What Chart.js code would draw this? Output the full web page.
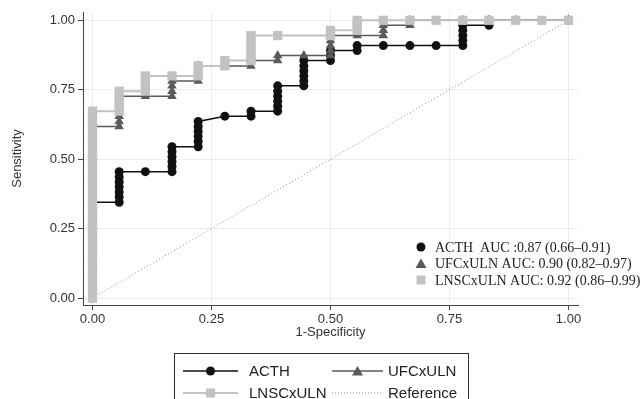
<!DOCTYPE html>
<html>
<head>
<meta charset="utf-8">
<script src="https://cdn.jsdelivr.net/npm/chart.js@4.4.1/dist/chart.umd.min.js"></script>
<style>
  html, body { margin: 0; padding: 0; background: #fff; }
  #wrap { width: 644px; height: 399px; }
</style>
</head>
<body>
<div id="wrap"><canvas id="roc" width="644" height="399"></canvas></div>
<script>
// 축 눈금
const fprTicks = [0, 0.25, 0.5, 0.75, 1];
const sensTicks = [0, 0.25, 0.5, 0.75, 1];

// ACTH (1-specificity, sensitivity)
const acthFpr = [
  0, 0, 0, 0, 0, 0, 0, 0, 0, 0, 0, 0, 0, 0, 0, 0, 0, 0, 0, 0,
  0.056, 0.056, 0.056, 0.056, 0.056, 0.056, 0.056,
  0.111,
  0.167, 0.167, 0.167, 0.167, 0.167, 0.167,
  0.222, 0.222, 0.222, 0.222, 0.222, 0.222,
  0.278,
  0.333, 0.333,
  0.389, 0.389, 0.389, 0.389, 0.389, 0.389,
  0.444, 0.444, 0.444, 0.444, 0.444, 0.444,
  0.5, 0.5, 0.5,
  0.556, 0.556,
  0.611, 0.667, 0.722,
  0.778, 0.778, 0.778, 0.778, 0.778,
  0.833, 0.833,
  1
];
const acthSens = [
  0, 0.018, 0.036, 0.055, 0.073, 0.091, 0.109, 0.127, 0.145, 0.164, 0.182, 0.2, 0.218, 0.236, 0.255, 0.273, 0.291, 0.309, 0.327, 0.345,
  0.345, 0.364, 0.382, 0.4, 0.418, 0.436, 0.455,
  0.455,
  0.455, 0.473, 0.491, 0.509, 0.527, 0.545,
  0.545, 0.564, 0.582, 0.6, 0.618, 0.636,
  0.655,
  0.655, 0.673,
  0.673, 0.691, 0.709, 0.727, 0.745, 0.764,
  0.764, 0.782, 0.8, 0.818, 0.836, 0.855,
  0.855, 0.873, 0.891,
  0.891, 0.909,
  0.909, 0.909, 0.909,
  0.909, 0.927, 0.945, 0.964, 0.982,
  0.982, 1,
  1
];

// UFCxULN
const ufcFpr = [
  0, 0, 0, 0, 0, 0, 0, 0, 0, 0, 0, 0, 0, 0, 0, 0, 0, 0, 0, 0, 0, 0, 0, 0, 0, 0, 0, 0, 0, 0, 0, 0, 0, 0, 0,
  0.056, 0.056, 0.056, 0.056, 0.056, 0.056, 0.056,
  0.111,
  0.167, 0.167, 0.167, 0.167,
  0.222, 0.222, 0.222, 0.222,
  0.278,
  0.333, 0.333,
  0.389, 0.389,
  0.444,
  0.5, 0.5, 0.5, 0.5, 0.5,
  0.556,
  0.611, 0.611, 0.611,
  0.667, 0.667,
  0.778, 0.833, 0.889, 1
];
const ufcSens = [
  0, 0.018, 0.036, 0.055, 0.073, 0.091, 0.109, 0.127, 0.145, 0.164, 0.182, 0.2, 0.218, 0.236, 0.255, 0.273, 0.291, 0.309, 0.327, 0.345, 0.364, 0.382, 0.4, 0.418, 0.436, 0.455, 0.473, 0.491, 0.509, 0.527, 0.545, 0.564, 0.582, 0.6, 0.618,
  0.618, 0.636, 0.655, 0.673, 0.691, 0.709, 0.727,
  0.727,
  0.727, 0.745, 0.764, 0.782,
  0.782, 0.8, 0.818, 0.836,
  0.836,
  0.836, 0.855,
  0.855, 0.873,
  0.873,
  0.873, 0.891, 0.909, 0.927, 0.945,
  0.945,
  0.945, 0.964, 0.982,
  0.982, 1,
  1, 1, 1, 1
];

// LNSCxULN
const lnscFpr = [
  0, 0, 0, 0, 0, 0, 0, 0, 0, 0, 0, 0, 0, 0, 0, 0, 0, 0, 0, 0, 0, 0, 0, 0, 0, 0, 0, 0, 0, 0, 0, 0, 0, 0, 0, 0, 0, 0,
  0.056, 0.056, 0.056, 0.056, 0.056,
  0.111, 0.111, 0.111, 0.111,
  0.167,
  0.222, 0.222, 0.222,
  0.278, 0.278,
  0.333, 0.333, 0.333, 0.333, 0.333, 0.333,
  0.389,
  0.5, 0.5,
  0.556, 0.556, 0.556,
  0.611, 0.667, 0.722, 0.778, 0.833, 0.889, 0.944, 1
];
const lnscSens = [
  0, 0.018, 0.036, 0.055, 0.073, 0.091, 0.109, 0.127, 0.145, 0.164, 0.182, 0.2, 0.218, 0.236, 0.255, 0.273, 0.291, 0.309, 0.327, 0.345, 0.364, 0.382, 0.4, 0.418, 0.436, 0.455, 0.473, 0.491, 0.509, 0.527, 0.545, 0.564, 0.582, 0.6, 0.618, 0.636, 0.655, 0.673,
  0.673, 0.691, 0.709, 0.727, 0.745,
  0.745, 0.764, 0.782, 0.8,
  0.8,
  0.8, 0.818, 0.836,
  0.836, 0.855,
  0.855, 0.873, 0.891, 0.909, 0.927, 0.945,
  0.945,
  0.945, 0.964,
  0.964, 0.982, 1,
  1, 1, 1, 1, 1, 1, 1, 1
];

// 기준선
const refFpr = [0, 1];
const refSens = [0, 1];

const seriesNames = ['ACTH', 'UFCxULN', 'LNSCxULN', 'Reference'];
const aucLabels = [
  'ACTH  AUC :0.87 (0.66\u20130.91)',
  'UFCxULN AUC: 0.90 (0.82\u20130.97)',
  'LNSCxULN AUC: 0.92 (0.86\u20130.99)'
];

const colors = { acth: '#111111', ufc: '#5a5a5a', lnsc: '#c2c2c2', ref: '#8a8a8a' };
const FONT = "'Liberation Sans', Arial, sans-serif";

function zip(xs, ys) {
  return xs.map((x, i) => ({ x: x, y: ys[i] }));
}

function marker(ctx, style, x, y, color) {
  ctx.fillStyle = color;
  ctx.beginPath();
  if (style === 'circle') {
    ctx.arc(x, y, 4.5, 0, Math.PI * 2);
  } else if (style === 'triangle') {
    ctx.moveTo(x, y - 5);
    ctx.lineTo(x + 5.5, y + 4.5);
    ctx.lineTo(x - 5.5, y + 4.5);
    ctx.closePath();
  } else {
    ctx.rect(x - 4.5, y - 4.5, 9, 9);
  }
  ctx.fill();
}

// 범례 두 개 (그림 안 AUC, 아래 상자)
const legendPlugin = {
  id: 'rocLegends',
  afterDraw(chart) {
    const ctx = chart.ctx;
    ctx.save();

    const aucStyles = [['circle', colors.acth], ['triangle', colors.ufc], ['rect', colors.lnsc]];
    ctx.font = "14px 'Liberation Serif', 'Times New Roman', serif";
    ctx.textBaseline = 'middle';
    ctx.textAlign = 'left';
    aucLabels.forEach((txt, i) => {
      const y = 247 + i * 16.5;
      marker(ctx, aucStyles[i][0], 421, y, aucStyles[i][1]);
      ctx.fillStyle = '#222';
      ctx.fillText(txt, 435, y + 1);
    });

    ctx.strokeStyle = '#333';
    ctx.lineWidth = 1;
    ctx.strokeRect(174.5, 353.5, 294, 60);

    const items = [
      { style: 'circle', color: colors.acth, col: 0, row: 0, width: 1.5 },
      { style: 'triangle', color: colors.ufc, col: 1, row: 0, width: 1.5 },
      { style: 'rect', color: colors.lnsc, col: 0, row: 1, width: 2 },
      { style: null, color: colors.ref, col: 1, row: 1, width: 1 }
    ];
    const lineStart = [183, 332], lineEnd = [238, 383], textX = [249, 388], rowY = [371, 393];
    ctx.font = '15px ' + FONT;
    items.forEach((it, i) => {
      const y = rowY[it.row];
      ctx.strokeStyle = it.color;
      ctx.lineWidth = it.width;
      ctx.setLineDash(it.style ? [] : [1, 2]);
      ctx.beginPath();
      ctx.moveTo(lineStart[it.col], y);
      ctx.lineTo(lineEnd[it.col], y);
      ctx.stroke();
      ctx.setLineDash([]);
      if (it.style) marker(ctx, it.style, (lineStart[it.col] + lineEnd[it.col]) / 2, y, it.color);
      ctx.fillStyle = '#222';
      ctx.fillText(seriesNames[i], textX[it.col], y + 1);
    });

    ctx.restore();
  }
};

const chart = new Chart(document.getElementById('roc'), {
  type: 'scatter',
  data: {
    datasets: [
      {
        label: seriesNames[0],
        data: zip(acthFpr, acthSens),
        showLine: true,
        borderColor: colors.acth,
        backgroundColor: colors.acth,
        borderWidth: 1.5,
        pointStyle: 'circle',
        pointRadius: 4.5,
        pointBorderWidth: 0,
        order: 3
      },
      {
        label: seriesNames[1],
        data: zip(ufcFpr, ufcSens),
        showLine: true,
        borderColor: colors.ufc,
        backgroundColor: colors.ufc,
        borderWidth: 1.5,
        pointStyle: 'triangle',
        pointRadius: 5.5,
        pointBorderWidth: 0,
        order: 2
      },
      {
        label: seriesNames[2],
        data: zip(lnscFpr, lnscSens),
        showLine: true,
        borderColor: colors.lnsc,
        backgroundColor: colors.lnsc,
        borderWidth: 2,
        pointStyle: 'rect',
        pointRadius: 6.5,
        pointBorderWidth: 0,
        order: 1
      },
      {
        label: seriesNames[3],
        data: zip(refFpr, refSens),
        showLine: true,
        borderColor: colors.ref,
        borderWidth: 1,
        borderDash: [1, 2.5],
        pointRadius: 0,
        order: 4
      }
    ]
  },
  options: {
    responsive: false,
    animation: false,
    events: [],
    layout: { padding: { top: 12, right: 66, left: 0, bottom: 0 } },
    plugins: { legend: { display: false }, tooltip: { enabled: false } },
    scales: {
      x: {
        type: 'linear',
        min: -0.02,
        max: 1.02,
        afterFit(s) { s.height = 94; },
        afterBuildTicks(s) { s.ticks = fprTicks.map(v => ({ value: v })); },
        grid: { color: '#ececec', tickColor: '#444', tickLength: 5 },
        border: { color: '#444', width: 1 },
        ticks: { padding: 2, color: '#333', font: { family: FONT, size: 13 }, callback: v => v.toFixed(2) },
        title: { display: true, text: '1-Specificity', color: '#333', font: { family: FONT, size: 13 }, padding: { top: 0, bottom: 59 } }
      },
      y: {
        type: 'linear',
        min: -0.025,
        max: 1.03,
        afterFit(s) { s.width = 83; },
        afterBuildTicks(s) { s.ticks = sensTicks.map(v => ({ value: v })); },
        grid: { color: '#ececec', tickColor: '#444', tickLength: 5 },
        border: { color: '#444', width: 1 },
        ticks: { padding: 3, color: '#333', font: { family: FONT, size: 13 }, callback: v => v.toFixed(2) },
        title: { display: true, text: 'Sensitivity', color: '#333', font: { family: FONT, size: 13 }, padding: { top: 10, bottom: 0 } }
      }
    }
  },
  plugins: [legendPlugin]
});
</script>
</body>
</html>
